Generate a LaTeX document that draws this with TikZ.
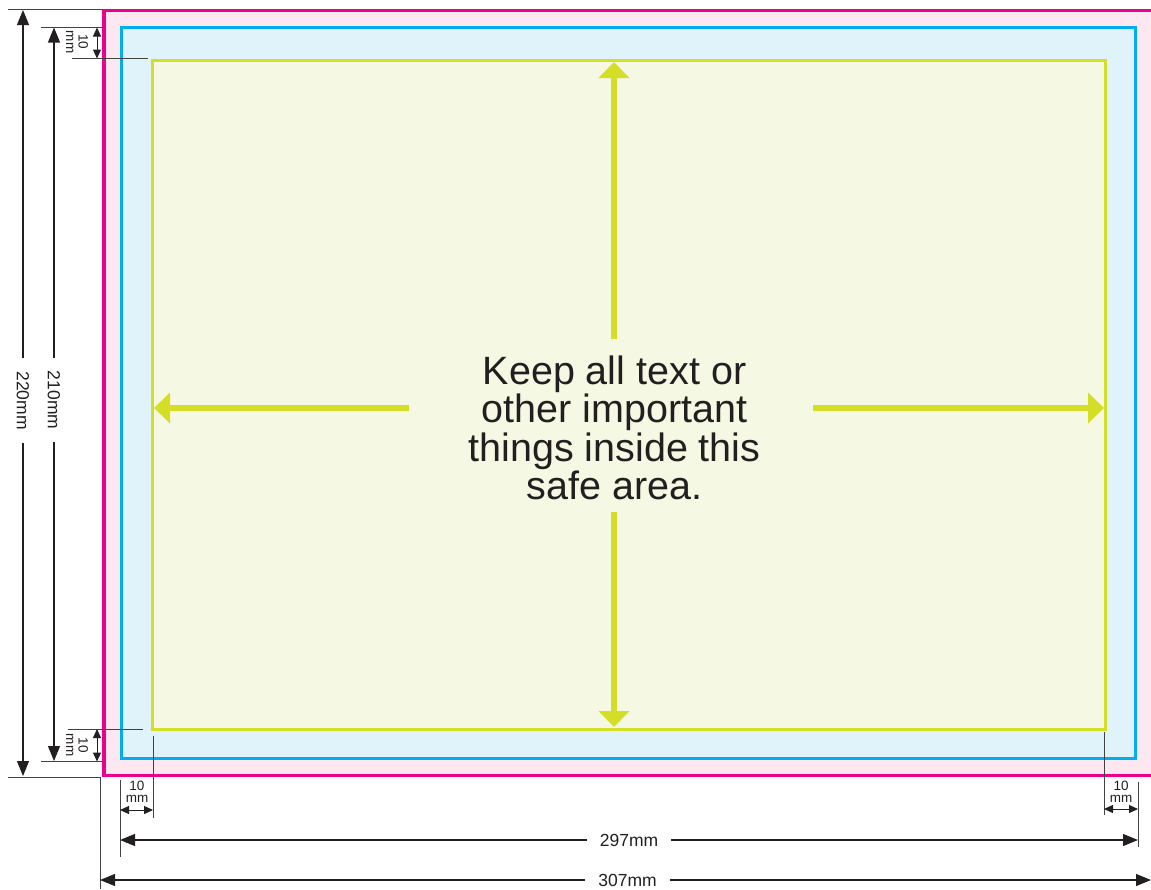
\documentclass[tikz,border=0pt]{standalone}
\usepackage{fontspec}
\setmainfont{Liberation Sans}
\usetikzlibrary{arrows.meta,positioning}
\definecolor{bleedpink}{HTML}{EC008C}
\definecolor{bleedfill}{HTML}{FDE7F1}
\definecolor{trimblue}{HTML}{00AEEF}
\definecolor{trimfill}{HTML}{E0F3FB}
\definecolor{safegreen}{HTML}{D5DE26}
\definecolor{safefill}{HTML}{F5F8E3}
\definecolor{inkdark}{HTML}{231F20}
\tikzset{
    every node/.style={text=inkdark},
    dim line/.style={draw=inkdark,line width=1.1pt,>={Triangle[length=15pt,width=12pt]},<->},
    small dim/.style={draw=inkdark,line width=1pt,>={Triangle[length=9pt,width=8pt]},<->},
    ext line/.style={draw=inkdark!85,line width=0.9pt},
    dim label/.style={fill=white,inner xsep=13pt,inner ysep=2pt,font=\fontsize{17.5}{20}\selectfont},
    mm label/.style={inner sep=0pt,align=center,font=\fontsize{13.5}{12.5}\selectfont},
    safe arrow/.style={draw=safegreen,line width=5.5pt,-{Triangle[length=16pt,width=30pt]}},
    msg text/.style={inner sep=0pt,align=center,font=\fontsize{39.5}{38.5}\selectfont}
}
\begin{document}
\begin{tikzpicture}[x=1pt,y=-1pt]
    \useasboundingbox (0,0) rectangle (1151,889);

    % bleed, trim and safe area
    \draw[bleedpink,fill=bleedfill,line width=3.5pt] (104,10.5) rectangle (1158,775.5);
    \draw[trimblue,fill=trimfill,line width=3pt] (121,27.5) rectangle (1135.5,758.5);
    \draw[safegreen,fill=safefill,line width=3pt] (152.5,60) rectangle (1105.5,729);

    \node[msg text] (msg) at (614.5,428) {Keep all text or\\other important\\things inside this\\safe area.};

    \coordinate (upS) at (614,339);   \coordinate (upT) at (614,62);
    \coordinate (dnS) at (614,512);   \coordinate (dnT) at (614,727);
    \coordinate (ltS) at (409,408);   \coordinate (ltT) at (154,408);
    \coordinate (rtS) at (813,408);   \coordinate (rtT) at (1104,408);
    \draw[safe arrow] (upS) -- (upT);
    \draw[safe arrow] (dnS) -- (dnT);
    \draw[safe arrow] (ltS) -- (ltT);
    \draw[safe arrow] (rtS) -- (rtT);

    % extension lines
    \draw[ext line] (8,9) -- (103,9);
    \draw[ext line] (8,777) -- (100,777);
    \draw[ext line] (41,27) -- (103,27);
    \draw[ext line] (41,761.5) -- (102,761.5);
    \draw[ext line] (72,58.5) -- (148,58.5);
    \draw[ext line] (68,729) -- (143,729);
    \draw[ext line] (100,777) -- (100,889);
    \draw[ext line] (120,780) -- (120,857);
    \draw[ext line] (153,736) -- (153,818);
    \draw[ext line] (1104,732) -- (1104,815);
    \draw[ext line] (1138,782) -- (1138,847);

    % vertical dimensions
    \draw[dim line] (23,10) -- (23,776) node[dim label,rotate=-90,pos=.51] (h220) {220mm};
    \draw[dim line] (54,27.5) -- (54,761) node[dim label,rotate=-90,pos=.508] (h210) {210mm};
    \draw[small dim] (97,27.5) -- (97,58.5);
    \draw[small dim] (97,729) -- (97,761.5);
    \node[mm label,rotate=-90] (mmTop) at (77,42) {10\\mm};
    \node[mm label,rotate=-90] (mmBot) at (77,745) {10\\mm};

    % horizontal dimensions
    \draw[small dim] (120,810) -- (153,810);
    \draw[small dim] (1104,809) -- (1138,809);
    \node[mm label] (mmLeft) at (137,792) {10\\mm};
    \node[mm label] (mmRight) at (1121,792) {10\\mm};
    \draw[dim line] (120,840) -- (1138,840) node[dim label,midway] (w297) {297mm};
    \draw[dim line] (100,880) -- (1151,880) node[dim label,pos=.502] (w307) {307mm};
\end{tikzpicture}
\end{document}
